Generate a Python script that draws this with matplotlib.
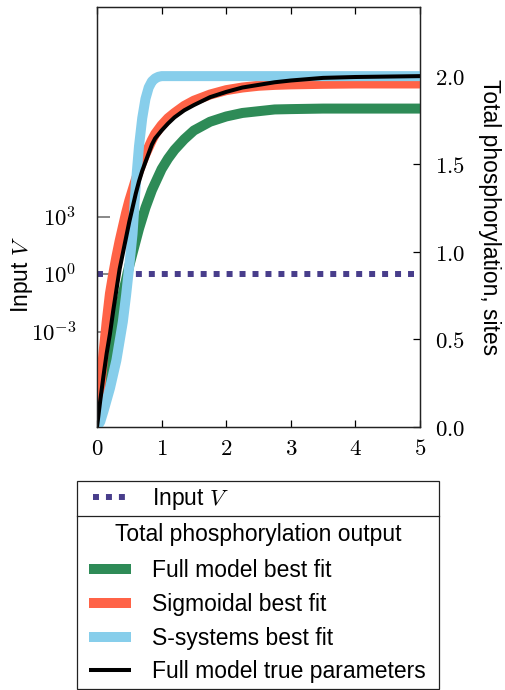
import matplotlib
matplotlib.use('Agg')
import matplotlib.pyplot as plt
from matplotlib.patches import Rectangle
from matplotlib.lines import Line2D
from matplotlib.ticker import FixedLocator, FixedFormatter, NullLocator

plt.rcParams['font.family'] = ['Liberation Sans', 'DejaVu Sans']
plt.rcParams['mathtext.fontset'] = 'cm'

# ---- data ----
time = [0.0, 0.05, 0.1, 0.15, 0.2, 0.25, 0.3, 0.35, 0.4, 0.45, 0.5, 0.55,
        0.6, 0.65, 0.7, 0.75, 0.8, 0.85, 0.9, 1.0, 1.1, 1.2, 1.35, 1.5,
        1.75, 2.0, 2.25, 2.5, 2.75, 3.0, 3.5, 4.0, 5.0]
full_model_fit = [0.0, 0.09, 0.19, 0.29, 0.39, 0.49, 0.58, 0.67, 0.76, 0.84,
                  0.92, 0.99, 1.06, 1.13, 1.19, 1.25, 1.30, 1.35, 1.39, 1.47,
                  1.53, 1.58, 1.64, 1.69, 1.74, 1.77, 1.79, 1.80, 1.81, 1.812,
                  1.815, 1.815, 1.815]
sigmoidal_fit = [0.0, 0.22, 0.42, 0.60, 0.76, 0.87, 0.97, 1.06, 1.14, 1.22,
                 1.29, 1.35, 1.41, 1.46, 1.51, 1.555, 1.595, 1.635, 1.67, 1.72,
                 1.76, 1.79, 1.83, 1.86, 1.895, 1.92, 1.935, 1.945, 1.95, 1.953,
                 1.956, 1.958, 1.958]
true_params = [0.0, 0.15, 0.29, 0.42, 0.53, 0.66, 0.78, 0.90, 0.99, 1.08,
               1.17, 1.25, 1.33, 1.40, 1.46, 1.51, 1.56, 1.61, 1.645, 1.69,
               1.73, 1.765, 1.805, 1.835, 1.88, 1.91, 1.935, 1.95, 1.965, 1.975,
               1.99, 1.995, 2.0]
time_ss = [0.0, 0.05, 0.1, 0.2, 0.3, 0.4, 0.45, 0.5, 0.55, 0.6, 0.65, 0.7,
           0.75, 0.8, 0.85, 0.9, 0.95, 1.0, 1.5, 2.0, 3.0, 4.0, 5.0]
ssystems_fit = [0.0, 0.03, 0.09, 0.22, 0.38, 0.60, 0.75, 0.92, 1.10, 1.38,
                1.60, 1.76, 1.87, 1.935, 1.97, 1.987, 1.996, 2.0, 2.0, 2.0,
                2.0, 2.0, 2.0]
input_v = [1.0, 1.0]
input_t = [0.0, 5.0]

x_ticks = [0, 1, 2, 3, 4, 5]
x_tick_labels = ['$0$', '$1$', '$2$', '$3$', '$4$', '$5$']
left_ticks = [1e-3, 1e0, 1e3]
left_tick_labels = [r'$10^{-3}$', r'$10^{0}$', r'$10^{3}$']
right_ticks = [0.0, 0.5, 1.0, 1.5, 2.0]
right_tick_labels = ['$0.0$', '$0.5$', '$1.0$', '$1.5$', '$2.0$']

labels = ['Full model best fit', 'Sigmoidal best fit', 'S-systems best fit',
          'Full model true parameters']
colors = ['#2e8b57', '#ff6347', '#87ceeb', '#000000']

W, H = 506, 690
FS = 16.5
fig = plt.figure(figsize=(W / 100, H / 100), dpi=100)
ax = fig.add_axes([97 / W, 1 - 427 / H, (420 - 97) / W, (427 - 7) / H])
ax.set_yscale('log')
ax.set_ylim(1e-8, 1e14)
ax.set_xlim(0, 5)

dot_style = (0, (1, 1.17))
ax.plot(input_t, input_v, color='#483d8b', lw=4.3, linestyle=dot_style,
        dash_capstyle='butt')

ax.yaxis.set_major_locator(FixedLocator(left_ticks))
ax.yaxis.set_major_formatter(FixedFormatter(left_tick_labels))
ax.yaxis.set_minor_locator(NullLocator())
ax.tick_params(axis='y', which='major', direction='in', length=9.4, width=1.4,
               color='#888888', labelsize=FS, pad=15)
ax.xaxis.set_major_locator(FixedLocator(x_ticks))
ax.xaxis.set_major_formatter(FixedFormatter(x_tick_labels))
ax.tick_params(axis='x', which='major', direction='in', length=4.8, width=0.9,
               top=True, labelsize=FS, pad=7)

ax2 = ax.twinx()
ax2.set_ylim(0, 2.394)
ax2.set_xlim(0, 5)
ax2.plot(time, full_model_fit, color=colors[0], lw=7.2, solid_capstyle='butt')
ax2.plot(time, sigmoidal_fit, color=colors[1], lw=7.2, solid_capstyle='butt')
ax2.plot(time_ss, ssystems_fit, color=colors[2], lw=7.2, solid_capstyle='butt')
ax2.plot(time, true_params, color=colors[3], lw=2.9)
ax2.yaxis.set_major_locator(FixedLocator(right_ticks))
ax2.yaxis.set_major_formatter(FixedFormatter(right_tick_labels))
ax2.tick_params(axis='y', direction='in', length=5, width=0.9,
                labelsize=FS, pad=10.5)

for a in (ax, ax2):
    for s in a.spines.values():
        s.set_linewidth(0.9)
        s.set_color('#222222')

fig.text(22 / W, 1 - 275 / H, 'Input $V$', rotation=90, ha='center',
         va='center', fontsize=FS)
fig.text(490 / W, 1 - 217 / H, 'Total phosphorylation, sites', rotation=270,
         ha='center', va='center', fontsize=FS)

# ---- legend frames ----
fig.patches.append(Rectangle((77 / W, 1 - 689 / H), (439 - 77) / W, (689 - 481) / H,
                             transform=fig.transFigure, fill=False,
                             edgecolor='#222222', lw=0.9))
fig.lines.append(Line2D([77 / W, 439 / W], [1 - 516 / H, 1 - 516 / H],
                        transform=fig.transFigure, color='#222222', lw=0.9))

h1 = [Line2D([], [], color='#483d8b', lw=4.3, linestyle=dot_style,
             dash_capstyle='butt')]
fig.legend(h1, ['Input $V$'], loc='center left',
           bbox_to_anchor=(93 / W, 1 - 499 / H), frameon=False, borderpad=0,
           borderaxespad=0, fontsize=FS, handlelength=1.48,
           handletextpad=1.1)

fig.text(258 / W, 1 - 535 / H, 'Total phosphorylation output', ha='center',
         va='center', fontsize=FS)

h2 = [Line2D([], [], color=c, lw=(2.9 if c == '#000000' else 7.2),
             solid_capstyle='butt') for c in colors]
fig.legend(h2, labels, loc='upper left', bbox_to_anchor=(89 / W, 1 - 559 / H),
           frameon=False, borderpad=0, borderaxespad=0, fontsize=FS,
           handlelength=1.83, handletextpad=0.9, labelspacing=0.47)

fig.savefig('out.png', dpi=100)
